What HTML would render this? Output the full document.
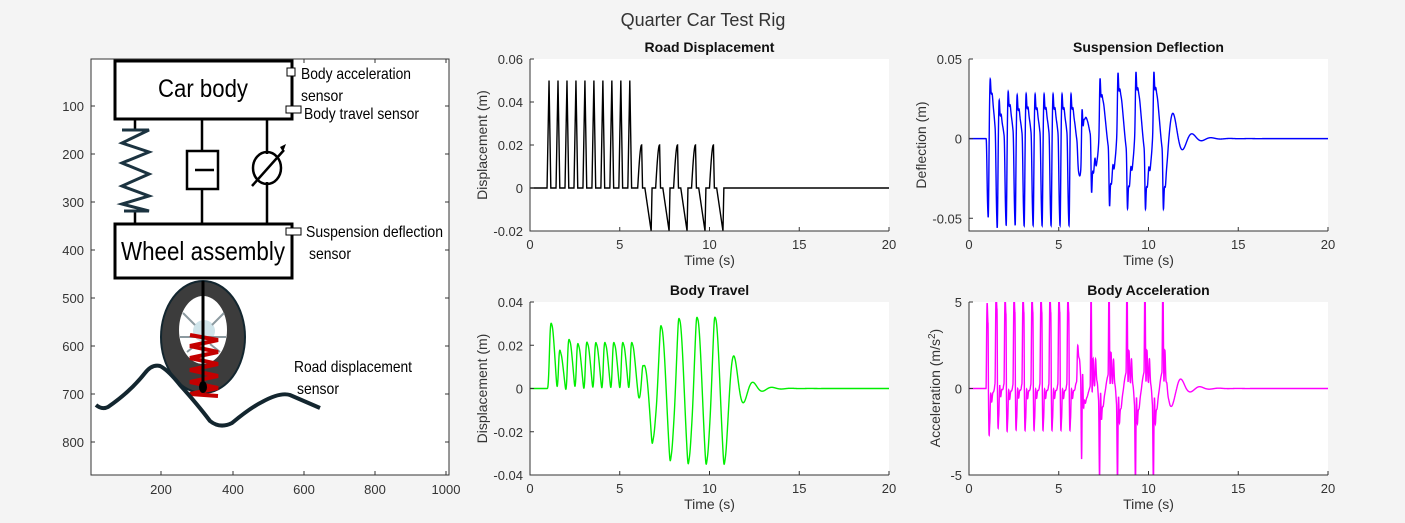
<!DOCTYPE html>
<html><head><meta charset="utf-8">
<style>
html,body{margin:0;padding:0;background:#f4f4f4;}
svg{display:block;font-family:"Liberation Sans",sans-serif;}
.tk{font-size:13px;fill:#333;}
.tt{font-size:14px;font-weight:bold;fill:#111;}
.lb{font-size:14px;fill:#333;}
.nar{font-family:"Liberation Sans Narrow","Liberation Sans",sans-serif;fill:#000;}
</style></head><body>
<svg id="s" width="1405" height="523" viewBox="0 0 1405 523" xmlns="http://www.w3.org/2000/svg">
<text x="703" y="26" text-anchor="middle" style="font-size:18px;fill:#333">Quarter Car Test Rig</text>
<rect x="91" y="59" width="358" height="416" fill="#fff" stroke="#333" stroke-width="1"/>
<g class="tk" text-anchor="end">
<text x="84" y="111">100</text><text x="84" y="159">200</text><text x="84" y="207">300</text><text x="84" y="255">400</text><text x="84" y="303">500</text><text x="84" y="351">600</text><text x="84" y="399">700</text><text x="84" y="447">800</text>
</g>
<g class="tk" text-anchor="middle">
<text x="161" y="494">200</text><text x="233" y="494">400</text><text x="304" y="494">600</text><text x="375" y="494">800</text><text x="446" y="494">1000</text>
</g>
<g stroke="#333" stroke-width="1">
<path d="M91 106h4M91 154h4M91 202h4M91 250h4M91 298h4M91 346h4M91 394h4M91 442h4M449 106h-4M449 154h-4M449 202h-4M449 250h-4M449 298h-4M449 346h-4M449 394h-4M449 442h-4"/>
<path d="M161 475v-4M233 475v-4M304 475v-4M375 475v-4M446 475v-4M161 59v4M233 59v4M304 59v4M375 59v4M446 59v4"/>
</g>
<rect x="115" y="61" width="177" height="58" fill="#fff" stroke="#000" stroke-width="3"/>
<text class="nar" x="203" y="97" text-anchor="middle" font-size="25" textLength="90" lengthAdjust="spacingAndGlyphs">Car body</text>
<rect x="115" y="224" width="177" height="54" fill="#fff" stroke="#000" stroke-width="3"/>
<text class="nar" x="203" y="260" text-anchor="middle" font-size="26" textLength="164" lengthAdjust="spacingAndGlyphs">Wheel assembly</text>
<rect x="287" y="68" width="8" height="8" fill="#fff" stroke="#000"/>
<rect x="286" y="106" width="15" height="7" fill="#fff" stroke="#000"/>
<rect x="286" y="228" width="15" height="7" fill="#fff" stroke="#000"/>
<g stroke="#000" stroke-width="2.5" fill="none">
<path d="M135 120v10M135 212v12"/>
<path d="M202 120v31M202 189v35M187 151h31v38h-31zM195 170h19"/>
<path d="M267 120v34M267 182v42"/>
<ellipse cx="267" cy="168" rx="14" ry="16"/>
<path d="M252 186L284 150"/>
</g>
<path d="M280 147l6-3-3 8z" fill="#000"/>
<path d="M122 130h27L122 143L149 152L122 163L149 174L122 186L149 196L122 204L149 211h-25" stroke="#1b3340" stroke-width="3" fill="none"/>
<ellipse cx="203" cy="337" rx="42" ry="56" fill="#3c3c3c" stroke="#13262f" stroke-width="2"/>
<ellipse cx="203" cy="330" rx="24" ry="34" fill="#fff"/>
<circle cx="204" cy="331" r="11" fill="#cfe4ea"/>
<g stroke="#8c9aa0" stroke-width="2"><path d="M183 313l12 12M224 313l-12 12M180 337h46M187 352l10-8M220 352l-10-8"/></g>
<g stroke="#c40000" stroke-width="4" fill="none"><path d="M190 335L218 340L190 346L218 352L190 358L218 364L190 370L218 376L190 382L218 388L190 394L218 396"/></g>
<path d="M203 281v104" stroke="#000" stroke-width="3"/>
<ellipse cx="203" cy="387" rx="4" ry="6" fill="#000"/>
<path d="M96 405Q102 410 108 407Q130 392 145 373Q152 364 160 366Q168 370 180 385Q198 405 210 421Q220 429 232 423Q250 408 262 402Q280 392 290 395L320 408" stroke="#13262f" stroke-width="4" fill="none"/>
<g class="nar" font-size="16">
<text x="301" y="79" textLength="110" lengthAdjust="spacingAndGlyphs">Body acceleration</text>
<text x="301" y="101" textLength="42" lengthAdjust="spacingAndGlyphs">sensor</text>
<text x="304" y="119" textLength="115" lengthAdjust="spacingAndGlyphs">Body travel sensor</text>
<text x="306" y="237" textLength="137" lengthAdjust="spacingAndGlyphs">Suspension deflection</text>
<text x="309" y="259" textLength="42" lengthAdjust="spacingAndGlyphs">sensor</text>
<text x="294" y="372" textLength="118" lengthAdjust="spacingAndGlyphs">Road displacement</text>
<text x="297" y="394" textLength="42" lengthAdjust="spacingAndGlyphs">sensor</text>
</g>
<g id="plots"></g>
</svg>
<script>
(function(){
var NS="http://www.w3.org/2000/svg",g=document.getElementById("plots");
function el(t,a,txt){var e=document.createElementNS(NS,t);for(var k in a)e.setAttribute(k,a[k]);if(txt!=null)e.textContent=txt;g.appendChild(e);return e;}
function road(t){
 for(var k=0;k<10;k++){var t0=0.95+0.5*k;if(t>=t0&&t<t0+0.11)return 0.05*(t-t0)/0.11;if(t>=t0+0.11&&t<t0+0.21)return 0.05*(1-(t-t0-0.11)/0.1);}
 for(var k=0;k<5;k++){var t0=6.0+k;var u=t-t0;
  if(u>=0&&u<0.22)return 0.02*Math.sin(u/0.22*Math.PI/2);
  if(u>=0.22&&u<0.27)return 0.02*(1-(u-0.22)/0.05);
  if(u>=0.4&&u<0.75)return -0.02*(u-0.4)/0.35;
  if(u>=0.75&&u<0.8)return -0.02*(1-(u-0.75)/0.05);}
 return 0;}
var mb=250,mw=40,ks=10000,kt=120000,cs=900,ct=300,dt=0.0002,N=20/dt;
var zb=0,vb=0,zw=0,vw=0,T=[],R=[],B=[],D=[],A=[],rp=0;
for(var i=0;i<=N;i++){var t=i*dt,r=road(t),rv=(r-rp)/dt;rp=r;
 var fs=ks*(zw-zb)+cs*(vw-vb);var ab=fs/mb;var aw=(-fs+kt*(r-zw)+ct*(rv-vw))/mw;
 if(i%20==0){T.push(t);R.push(r);B.push(zb);D.push(zb-zw);A.push(ab);}
 vb+=ab*dt;vw+=aw*dt;zb+=vb*dt;zw+=vw*dt;}
function sc(a,m){var mx=0;a.forEach(function(v){mx=Math.max(mx,Math.abs(v));});return a.map(function(v){return v*m/mx;});}
B=sc(B,0.035);D=sc(D,0.056);A=sc(A,6.0);
A=A.map(function(v,i){var t=T[i];if(v<0&&t<6)return v*0.45;if(v>0&&t>=6)return v*1.2;return v;});
var id=0;
function plot(x0,y0,x1,y1,ymin,ymax,yt,ytl,data,col,title,ylab){
 el("rect",{x:x0,y:y0,width:x1-x0,height:y1-y0,fill:"#fff"});
 var cid="c"+(id++);var cp=el("clipPath",{id:cid});var r=document.createElementNS(NS,"rect");
 r.setAttribute("x",x0);r.setAttribute("y",y0);r.setAttribute("width",x1-x0);r.setAttribute("height",y1-y0);cp.appendChild(r);
 var X=function(t){return x0+(x1-x0)*t/20},Y=function(v){return y1-(y1-y0)*(v-ymin)/(ymax-ymin)};
 var d="";for(var i=0;i<T.length;i++)d+=(i?"L":"M")+X(T[i]).toFixed(2)+" "+Y(data[i]).toFixed(2);
 el("path",{d:d,fill:"none",stroke:col,"stroke-width":1.4,"clip-path":"url(#"+cid+")"});
 el("path",{d:"M"+x0+" "+y0+"V"+y1+"H"+x1,fill:"none",stroke:"#333","stroke-width":1});
 for(var k=0;k<=4;k++){var xx=x0+(x1-x0)*k/4;el("path",{d:"M"+xx+" "+y1+"v-4",stroke:"#333"});el("text",{x:xx,y:y1+18,"text-anchor":"middle","class":"tk"},String(k*5));}
 yt.forEach(function(v,j){var yy=Y(v);el("path",{d:"M"+x0+" "+yy+"h4",stroke:"#333"});el("text",{x:x0-7,y:yy+5,"text-anchor":"end","class":"tk"},ytl[j]);});
 el("text",{x:(x0+x1)/2,y:y0-7,"text-anchor":"middle","class":"tt"},title);
 el("text",{x:(x0+x1)/2,y:y1+34,"text-anchor":"middle","class":"lb"},"Time (s)");
 return el("text",{x:0,y:0,transform:"translate("+(x0-43)+","+((y0+y1)/2)+") rotate(-90)","text-anchor":"middle","class":"lb"},ylab);
}
plot(530,59,889,231,-0.02,0.06,[0.06,0.04,0.02,0,-0.02],["0.06","0.04","0.02","0","-0.02"],R,"#000","Road Displacement","Displacement (m)");
plot(969,59,1328,231,-0.058,0.05,[0.05,0,-0.05],["0.05","0","-0.05"],D,"#0000ff","Suspension Deflection","Deflection (m)").setAttribute("transform","translate(926,145) rotate(-90)");
plot(530,302,889,475,-0.04,0.04,[0.04,0.02,0,-0.02,-0.04],["0.04","0.02","0","-0.02","-0.04"],B,"#00ee00","Body Travel","Displacement (m)");
var t=plot(969,302,1328,475,-5,5,[5,0,-5],["5","0","-5"],A,"#ff00ff","Body Acceleration","");
t.setAttribute("transform","translate(940,388) rotate(-90)");
t.innerHTML='Acceleration  (m/s<tspan dy="-5" font-size="10">2</tspan><tspan dy="5">)</tspan>';
})();
</script>
</body></html>
